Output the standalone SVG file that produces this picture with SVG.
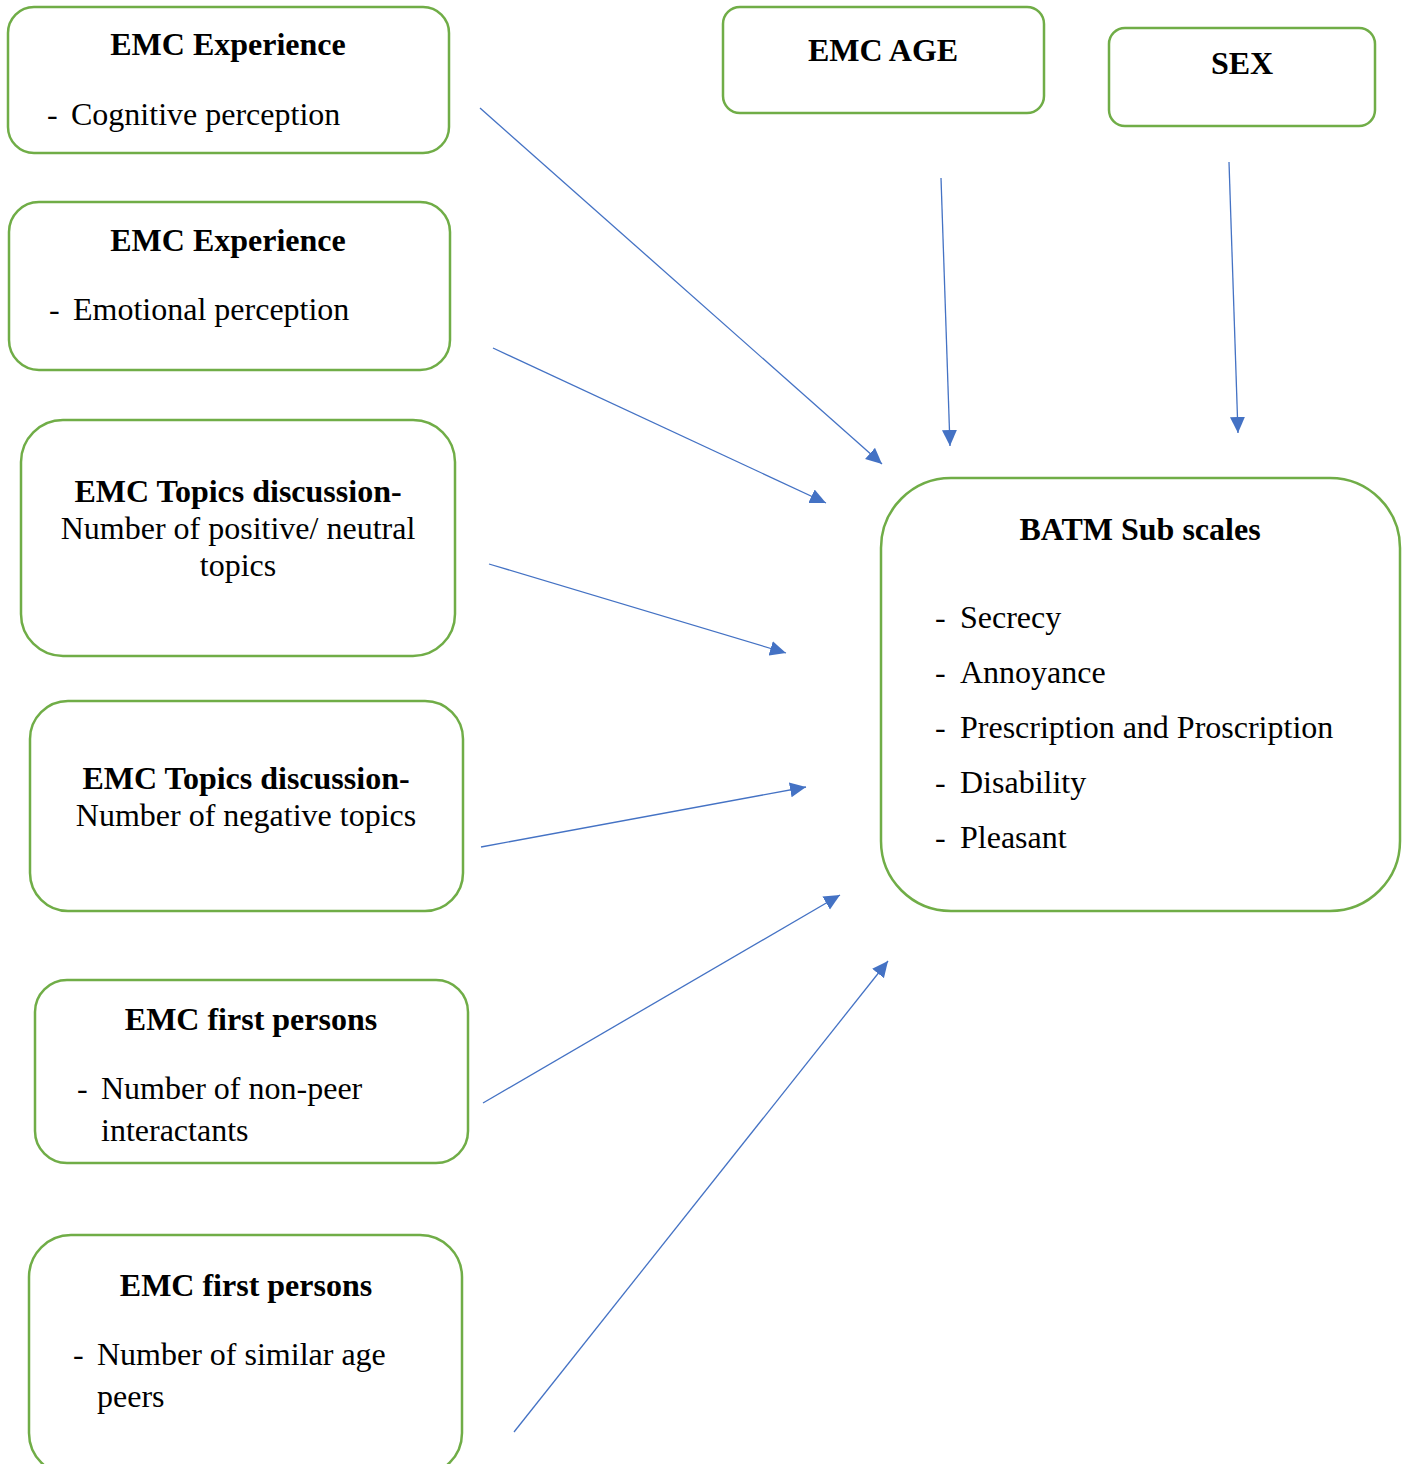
<svg xmlns="http://www.w3.org/2000/svg" width="1410" height="1464" viewBox="0 0 1410 1464">
<style>
.box{fill:#fff;stroke:#70AD47;stroke-width:2.5}
.t{font-family:"Liberation Serif","Times New Roman",serif;font-size:32px;fill:#000}
.b{font-weight:bold}
.c{text-anchor:middle}
.ln{stroke:#4472C4;stroke-width:1.3;fill:none;marker-end:url(#ah)}
</style>
<defs>
<marker id="ah" markerUnits="userSpaceOnUse" markerWidth="17" markerHeight="16" refX="16" refY="8" orient="auto">
<path d="M0,0.5 L16,8 L0,15.5 Z" fill="#4472C4"/>
</marker>
</defs>
<rect width="1410" height="1464" fill="#fff"/>
<g id="connectors">
<line class="ln" x1="480" y1="108" x2="882" y2="464"/>
<line class="ln" x1="493" y1="348" x2="826" y2="503"/>
<line class="ln" x1="489" y1="564" x2="786" y2="653"/>
<line class="ln" x1="481" y1="847" x2="806" y2="787"/>
<line class="ln" x1="483" y1="1103" x2="840" y2="895"/>
<line class="ln" x1="514" y1="1432" x2="888" y2="961"/>
<line class="ln" x1="941" y1="178" x2="950" y2="446"/>
<line class="ln" x1="1229" y1="162" x2="1238" y2="433"/>
</g>
<g id="emc-exp-cog">
<rect class="box" x="8" y="7" width="441" height="146" rx="26"/>
<text class="t b c" x="228" y="55">EMC Experience</text>
<text class="t" x="47" y="125">-</text>
<text class="t" x="71" y="125">Cognitive perception</text>
</g>
<g id="emc-exp-emo">
<rect class="box" x="9" y="202" width="441" height="168" rx="30"/>
<text class="t b c" x="228" y="251">EMC Experience</text>
<text class="t" x="49" y="320">-</text>
<text class="t" x="73" y="320">Emotional perception</text>
</g>
<g id="emc-topics-pos">
<rect class="box" x="21" y="420" width="434" height="236" rx="42"/>
<text class="t b c" x="238" y="502">EMC Topics discussion-</text>
<text class="t c" x="238" y="539">Number of positive/ neutral</text>
<text class="t c" x="238" y="576">topics</text>
</g>
<g id="emc-topics-neg">
<rect class="box" x="30" y="701" width="433" height="210" rx="38"/>
<text class="t b c" x="246" y="789">EMC Topics discussion-</text>
<text class="t c" x="246" y="826">Number of negative topics</text>
</g>
<g id="emc-first-nonpeer">
<rect class="box" x="35" y="980" width="433" height="183" rx="32"/>
<text class="t b c" x="251" y="1030">EMC first persons</text>
<text class="t" x="77" y="1099">-</text>
<text class="t" x="101" y="1099">Number of non-peer</text>
<text class="t" x="101" y="1141">interactants</text>
</g>
<g id="emc-first-similar">
<rect class="box" x="29" y="1235" width="433" height="240" rx="42"/>
<text class="t b c" x="246" y="1296">EMC first persons</text>
<text class="t" x="73" y="1365">-</text>
<text class="t" x="97" y="1365">Number of similar age</text>
<text class="t" x="97" y="1407">peers</text>
</g>
<g id="emc-age">
<rect class="box" x="723" y="7" width="321" height="106" rx="17"/>
<text class="t b c" x="883" y="61">EMC AGE</text>
</g>
<g id="sex">
<rect class="box" x="1109" y="28" width="266" height="98" rx="16"/>
<text class="t b c" x="1242" y="74">SEX</text>
</g>
<g id="batm">
<rect class="box" x="881" y="478" width="519" height="433" rx="70"/>
<text class="t b c" x="1140" y="540">BATM Sub scales</text>
<text class="t" x="935" y="628">-</text>
<text class="t" x="960" y="628">Secrecy</text>
<text class="t" x="935" y="683">-</text>
<text class="t" x="960" y="683">Annoyance</text>
<text class="t" x="935" y="738">-</text>
<text class="t" x="960" y="738">Prescription and Proscription</text>
<text class="t" x="935" y="793">-</text>
<text class="t" x="960" y="793">Disability</text>
<text class="t" x="935" y="848">-</text>
<text class="t" x="960" y="848">Pleasant</text>
</g>
</svg>
